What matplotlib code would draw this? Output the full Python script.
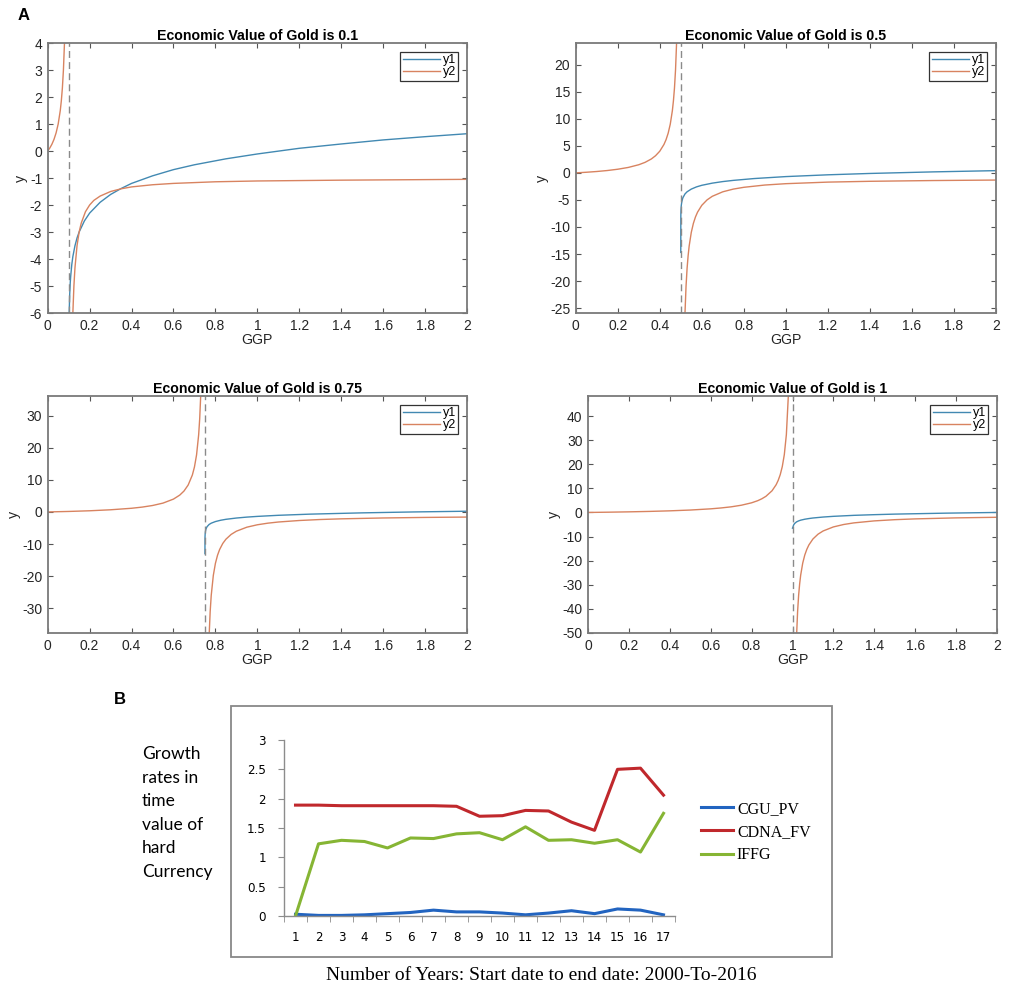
import matplotlib.pyplot as plt
from matplotlib.ticker import FuncFormatter, MultipleLocator, FixedLocator
from matplotlib.patches import Rectangle

# ---- panel A data ----
gold_values = [0.1, 0.5, 0.75, 1]
titles = ["Economic Value of Gold is 0.1", "Economic Value of Gold is 0.5",
          "Economic Value of Gold is 0.75", "Economic Value of Gold is 1"]

# g = 0.1
p1_y2_left_x = [0, 0.01, 0.02, 0.03, 0.04, 0.05, 0.06, 0.065, 0.07, 0.075, 0.08, 0.085, 0.09]
p1_y2_left_y = [0, 0.11, 0.25, 0.43, 0.67, 1.0, 1.5, 1.86, 2.33, 3.0, 4.0, 5.67, 9.0]
p1_y2_right_x = [0.11, 0.115, 0.12, 0.125, 0.13, 0.14, 0.15, 0.16, 0.18, 0.2, 0.22, 0.25, 0.3,
                 0.35, 0.4, 0.5, 0.6, 0.8, 1.0, 1.4, 2.0]
p1_y2_right_y = [-11.0, -7.67, -6.0, -5.0, -4.33, -3.5, -3.0, -2.67, -2.25, -2.0, -1.83, -1.67, -1.5,
                 -1.4, -1.33, -1.25, -1.2, -1.14, -1.11, -1.08, -1.05]
p1_y1_x = [0.1, 0.1025, 0.105, 0.1075, 0.11, 0.115, 0.12, 0.13, 0.14, 0.15, 0.175, 0.2, 0.25, 0.3,
           0.35, 0.4, 0.5, 0.6, 0.7, 0.85, 1.0, 1.2, 1.4, 1.6, 1.8, 2.0]
p1_y1_y = [-6.5, -5.99, -5.3, -4.88, -4.61, -4.2, -3.91, -3.51, -3.22, -3.0, -2.59, -2.3, -1.9, -1.61,
           -1.39, -1.2, -0.92, -0.69, -0.51, -0.29, -0.11, 0.10, 0.26, 0.41, 0.53, 0.64]

# g = 0.5
p2_y2_left_x = [0, 0.05, 0.1, 0.15, 0.2, 0.25, 0.3, 0.33, 0.36, 0.38, 0.4, 0.42, 0.43, 0.44, 0.45,
                0.46, 0.465, 0.47, 0.475, 0.48, 0.485]
p2_y2_left_y = [0, 0.11, 0.25, 0.43, 0.67, 1.0, 1.5, 1.94, 2.57, 3.17, 4.0, 5.25, 6.14, 7.33, 9.0,
                11.5, 13.3, 15.67, 19.0, 24.0, 32.3]
p2_y2_right_x = [0.51, 0.515, 0.52, 0.525, 0.53, 0.535, 0.54, 0.55, 0.56, 0.57, 0.58, 0.6, 0.625,
                 0.65, 0.7, 0.75, 0.8, 0.9, 1.0, 1.2, 1.4, 1.7, 2.0]
p2_y2_right_y = [-51.0, -34.3, -26.0, -21.0, -17.67, -15.3, -13.5, -11.0, -9.33, -8.14, -7.25, -6.0, -5.0,
                 -4.33, -3.5, -3.0, -2.67, -2.25, -2.0, -1.71, -1.56, -1.42, -1.33]
p2_y1_x = [0.5, 0.5003, 0.5005, 0.501, 0.5025, 0.505, 0.51, 0.52, 0.53, 0.55, 0.575, 0.6, 0.65, 0.7,
           0.75, 0.85, 1.0, 1.2, 1.4, 1.7, 2.0]
p2_y1_y = [-14.7, -8.1, -7.6, -6.9, -6.0, -5.3, -4.6, -3.9, -3.5, -3.0, -2.59, -2.3, -1.9, -1.61,
           -1.39, -1.05, -0.69, -0.36, -0.11, 0.18, 0.41]

# g = 0.75
p3_y2_left_x = [0, 0.1, 0.2, 0.3, 0.4, 0.45, 0.5, 0.55, 0.6, 0.63, 0.65, 0.67, 0.69, 0.7, 0.71,
                0.72, 0.725, 0.73, 0.735, 0.74]
p3_y2_left_y = [0, 0.15, 0.36, 0.67, 1.14, 1.5, 2.0, 2.75, 4.0, 5.25, 6.5, 8.38, 11.5, 14.0, 17.75,
                24.0, 29.0, 36.5, 49.0, 74.0]
p3_y2_right_x = [0.76, 0.765, 0.77, 0.775, 0.78, 0.79, 0.8, 0.81, 0.82, 0.835, 0.85, 0.875, 0.9,
                 0.95, 1.0, 1.05, 1.1, 1.2, 1.3, 1.4, 1.6, 1.8, 2.0]
p3_y2_right_y = [-76.0, -51.0, -38.5, -31.0, -26.0, -19.75, -16.0, -13.5, -11.71, -9.82, -8.5, -7.0, -6.0,
                 -4.75, -4.0, -3.5, -3.14, -2.67, -2.36, -2.15, -1.88, -1.71, -1.6]
p3_y1_x = [0.75, 0.7503, 0.7505, 0.751, 0.7525, 0.755, 0.76, 0.77, 0.78, 0.8, 0.825, 0.85, 0.9, 0.95,
           1.0, 1.1, 1.25, 1.5, 1.75, 2.0]
p3_y1_y = [-13.0, -8.1, -7.6, -6.9, -6.0, -5.3, -4.6, -3.9, -3.5, -3.0, -2.59, -2.3, -1.9, -1.61,
           -1.39, -1.05, -0.69, -0.29, 0.0, 0.22]

# g = 1
p4_y2_left_x = [0, 0.1, 0.2, 0.3, 0.4, 0.5, 0.6, 0.65, 0.7, 0.75, 0.8, 0.83, 0.85, 0.87, 0.9, 0.92,
                0.93, 0.94, 0.95, 0.96, 0.97, 0.98]
p4_y2_left_y = [0, 0.11, 0.25, 0.43, 0.67, 1.0, 1.5, 1.86, 2.33, 3.0, 4.0, 4.88, 5.67, 6.69, 9.0, 11.5,
                13.3, 15.67, 19.0, 24.0, 32.3, 49.0]
p4_y2_right_x = [1.02, 1.025, 1.03, 1.035, 1.04, 1.05, 1.06, 1.07, 1.08, 1.1, 1.125, 1.15, 1.2, 1.25,
                 1.3, 1.4, 1.5, 1.6, 1.8, 2.0]
p4_y2_right_y = [-51.0, -41.0, -34.3, -29.6, -26.0, -21.0, -17.67, -15.3, -13.5, -11.0, -9.0, -7.67, -6.0,
                 -5.0, -4.33, -3.5, -3.0, -2.67, -2.25, -2.0]
p4_y1_x = [1.0, 1.0025, 1.005, 1.01, 1.02, 1.03, 1.04, 1.06, 1.08, 1.1, 1.15, 1.2, 1.3, 1.4, 1.5,
           1.75, 2.0]
p4_y1_y = [-6.5, -6.0, -5.3, -4.6, -3.9, -3.5, -3.2, -2.81, -2.53, -2.3, -1.9, -1.61, -1.2, -0.92,
           -0.69, -0.29, 0.0]

y_limits = [(-6, 4), (-25.9, 24), (-37.7, 36.1), (-50, 48.3)]
y_steps = [1, 5, 10, 10]

# ---- panel B data ----
years = list(range(1, 18))
cgu_pv = [0.03, 0.01, 0.01, 0.02, 0.04, 0.06, 0.10, 0.07, 0.07, 0.05, 0.02, 0.05, 0.09, 0.04, 0.12, 0.10, 0.02]
cdna_fv = [1.89, 1.89, 1.88, 1.88, 1.88, 1.88, 1.88, 1.87, 1.70, 1.71, 1.80, 1.79, 1.60, 1.46, 2.50, 2.52, 2.06]
iffg = [0.0, 1.23, 1.29, 1.27, 1.16, 1.33, 1.32, 1.40, 1.42, 1.30, 1.52, 1.29, 1.30, 1.24, 1.30, 1.09, 1.75]

blue = "#4289b2"
orange = "#d88360"
axis_grey = "#7a7a7a"

plt.rcParams['font.family'] = ['Liberation Sans', 'DejaVu Sans']

fig = plt.figure(figsize=(10.21, 9.93), dpi=100)

W, H = 1021.0, 993.0
def fig_rect(l, t, r, b):
    return [l / W, 1 - b / H, (r - l) / W, (b - t) / H]

rects = [fig_rect(47.7, 43, 467, 313), fig_rect(575.7, 43, 996, 313),
         fig_rect(47.7, 396, 467, 633), fig_rect(588, 396, 997, 633)]

panels = [
    (p1_y1_x, p1_y1_y, p1_y2_left_x, p1_y2_left_y, p1_y2_right_x, p1_y2_right_y),
    (p2_y1_x, p2_y1_y, p2_y2_left_x, p2_y2_left_y, p2_y2_right_x, p2_y2_right_y),
    (p3_y1_x, p3_y1_y, p3_y2_left_x, p3_y2_left_y, p3_y2_right_x, p3_y2_right_y),
    (p4_y1_x, p4_y1_y, p4_y2_left_x, p4_y2_left_y, p4_y2_right_x, p4_y2_right_y),
]

gfmt = FuncFormatter(lambda v, p: "%g" % round(v, 6))

for i, (y1x, y1y, lx, ly, rx, ry) in enumerate(panels):
    ax = fig.add_axes(rects[i])
    ax.plot(y1x, y1y, color=blue, lw=1.0, label="y1")
    ax.plot(lx, ly, color=orange, lw=1.0, label="y2")
    ax.plot(rx, ry, color=orange, lw=1.0)
    ax.axvline(gold_values[i], color="#8a8a8a", lw=1.0, ls=(0, (5, 3)))
    ax.set_xlim(0, 2)
    ax.set_ylim(*y_limits[i])
    ax.xaxis.set_major_locator(MultipleLocator(0.2))
    ax.yaxis.set_major_locator(MultipleLocator(y_steps[i]))
    ax.xaxis.set_major_formatter(gfmt)
    ax.yaxis.set_major_formatter(gfmt)
    ax.tick_params(direction="in", top=True, right=True, length=3.5, width=0.8,
                   color="#555555", labelsize=10, labelcolor="#262626", pad=4)
    for s in ax.spines.values():
        s.set_color(axis_grey)
        s.set_linewidth(1.3)
    ax.set_title(titles[i], fontsize=10.2, fontweight="bold", pad=2)
    ax.set_xlabel("GGP", fontsize=10.2, labelpad=0, color="#262626")
    ax.set_ylabel("y", fontsize=10.2, labelpad=1, color="#262626")
    leg = ax.legend(loc="upper right", fontsize=9, handlelength=3.0, handletextpad=0.2,
                    labelspacing=0.0, borderpad=0.2, borderaxespad=0.7, fancybox=False,
                    framealpha=1, edgecolor="#333333")
    leg.get_frame().set_linewidth(0.9)

fig.text(18 / W, 1 - 15 / H, "A", fontsize=12, fontweight="bold", va="center", ha="left")

# ---- panel B ----
fig.patches.append(Rectangle((231 / W, 1 - 957 / H), 601 / W, 251 / H, transform=fig.transFigure,
                             fill=False, edgecolor="#888888", lw=1.3))
fig.text(114 / W, 1 - 700 / H, "B", fontsize=12, fontweight="bold", va="center", ha="left")

axb = fig.add_axes(fig_rect(284, 740, 675, 916))
axb.plot(years, cgu_pv, color="#2264c0", lw=2.2, label="CGU_PV")
axb.plot(years, cdna_fv, color="#c0282c", lw=2.2, label="CDNA_FV")
axb.plot(years, iffg, color="#86b534", lw=2.2, label="IFFG")
axb.set_xlim(0.5, 17.5)
axb.set_ylim(0, 3)
axb.set_xticks(years)
axb.xaxis.set_minor_locator(FixedLocator([k + 0.5 for k in range(0, 18)]))
axb.yaxis.set_major_locator(MultipleLocator(0.5))
axb.yaxis.set_major_formatter(gfmt)
for side in ["top", "right"]:
    axb.spines[side].set_visible(False)
for side in ["left", "bottom"]:
    axb.spines[side].set_color("#8c8c8c")
    axb.spines[side].set_linewidth(1.0)
axb.tick_params(axis="x", which="major", length=0, pad=11)
axb.tick_params(axis="x", which="minor", length=4, direction="out", color="#8c8c8c")
axb.tick_params(axis="y", length=4, direction="out", color="#8c8c8c", pad=9)
for lab in axb.get_xticklabels() + axb.get_yticklabels():
    lab.set_family(["DejaVu Sans"])
    lab.set_fontsize(8.6)
axb.legend(loc="center left", bbox_to_anchor=(701 / W, 1 - 832 / H), bbox_transform=fig.transFigure,
           frameon=False, prop={"family": ["Liberation Serif"], "size": 11.5}, handlelength=2.0,
           handletextpad=0.25, labelspacing=0.45, borderpad=0, borderaxespad=0)

fig.text(141.7 / W, 1 - 746 / H, "Growth\nrates in\ntime\nvalue of\nhard\nCurrency",
         family=["Lato", "DejaVu Sans"], fontsize=12.5, va="top", ha="left", linespacing=1.58)

fig.text(541 / W, 1 - 975 / H, "Number of Years: Start date to end date: 2000-To-2016",
         family=["Liberation Serif"], fontsize=14, ha="center", va="center")

fig.savefig("out.png", dpi=100)
